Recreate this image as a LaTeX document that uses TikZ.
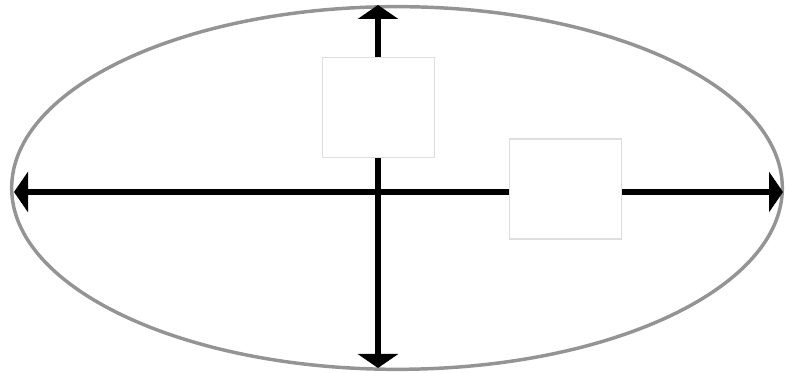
\documentclass[tikz,border=0pt]{standalone}
\usetikzlibrary{arrows.meta,shapes.geometric}
\begin{document}
\begin{tikzpicture}[x=0.75pt,y=-0.75pt,
  axis/.style={line width=4.6pt,{Triangle[width=30pt,length=10.5pt]}-{Triangle[width=30pt,length=10.5pt]}},
  panel/.style={draw=black!13,line width=0.8pt,fill=white,minimum width=84pt,minimum height=75pt,inner sep=0pt},
  oval/.style={ellipse,draw=black!42,line width=2.6pt,minimum width=578pt,minimum height=272pt,inner sep=0pt}]
\useasboundingbox (0,0) rectangle (794,373);
\node[oval] (E) at (397,188) {};
\coordinate (L) at (14,192);
\coordinate (R) at (783,192);
\coordinate (T) at (378,5);
\coordinate (B) at (378,368);
\draw[axis] (L) -- (R);
\draw[axis] (T) -- (B);
\node[panel] (P1) at (378.5,107.5) {};
\node[panel] (P2) at (565.5,189) {};
\end{tikzpicture}
\end{document}
